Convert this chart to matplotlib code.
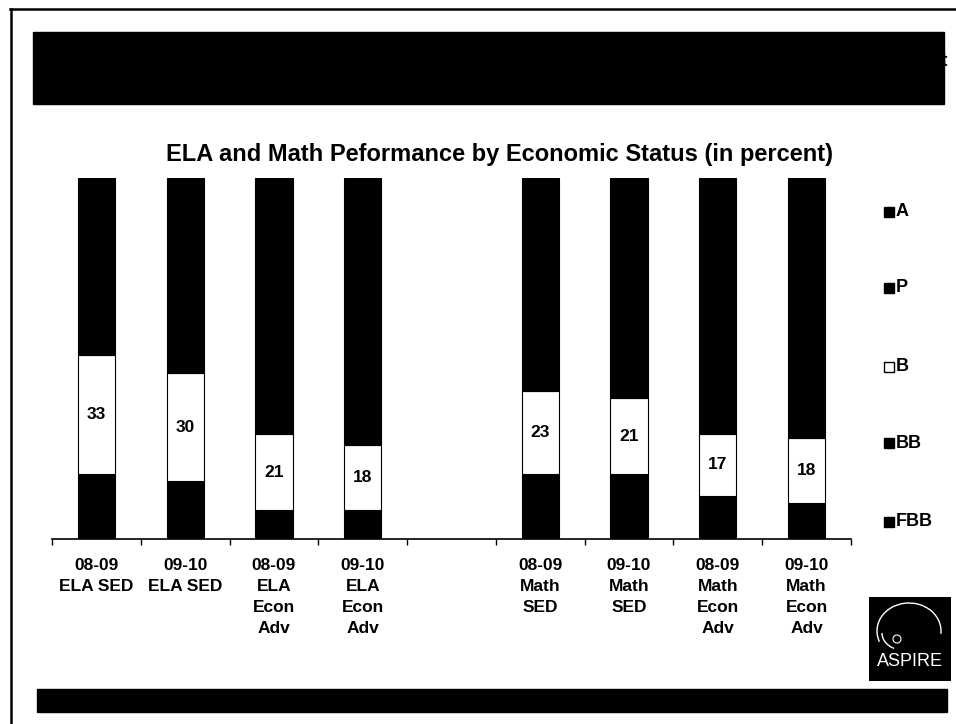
import matplotlib.pyplot as plt
from matplotlib.patches import Rectangle, Arc
from matplotlib.lines import Line2D

plt.rcParams['font.family'] = ['Liberation Sans', 'DejaVu Sans']

labels = ['08-09\nELA SED', '09-10\nELA SED', '08-09\nELA\nEcon\nAdv', '09-10\nELA\nEcon\nAdv',
          '08-09\nMath\nSED', '09-10\nMath\nSED', '08-09\nMath\nEcon\nAdv', '09-10\nMath\nEcon\nAdv']
# position in the category axis, one empty slot between ELA and Math
slots = [0, 1, 2, 3, 5, 6, 7, 8]

series = ['FBB', 'BB', 'B', 'P', 'A']
FBB = [6, 5, 2, 2, 5, 6, 4, 3]
BB = [12, 11, 6, 6, 13, 12, 8, 7]
B = [33, 30, 21, 18, 23, 21, 17, 18]
P = [33, 36, 42, 44, 34, 36, 38, 37]
A = [16, 18, 29, 30, 25, 25, 33, 35]
values = [FBB, BB, B, P, A]
colors = ['black', 'black', 'white', 'black', 'black']

fig = plt.figure(figsize=(9.56, 7.24), dpi=100)
W, H = 956, 724

def fx(px):
    return px / W

def fy(py):
    return 1 - py / H

# page frame and black bands
fig.add_artist(Line2D([fx(10), 1], [fy(9), fy(9)], color='black', lw=1.8))
fig.add_artist(Line2D([fx(11), fx(11)], [fy(9), 0], color='black', lw=1.8))
fig.add_artist(Rectangle((fx(33), fy(104)), fx(944 - 33), (104 - 32) / H, color='black'))
fig.text(fx(941), fy(61), 't', fontsize=14, fontweight='bold', ha='left', va='center')
fig.add_artist(Rectangle((fx(37), fy(712)), fx(947 - 37), (712 - 689) / H, color='black'))

ax = fig.add_axes([fx(52), fy(539), fx(851 - 52), (539 - 178) / H])

bottom = [0] * len(slots)
for name, vals, c in zip(series, values, colors):
    ax.bar(slots, vals, width=0.42, bottom=bottom, color=c,
           edgecolor='black' if c == 'white' else c, linewidth=0.8)
    if name == 'B':
        for x, b, v in zip(slots, bottom, vals):
            ax.text(x, b + v / 2, str(v), ha='center', va='center',
                    fontsize=12.5, fontweight='bold')
    bottom = [b + v for b, v in zip(bottom, vals)]

ax.set_xlim(-0.5, 8.5)
ax.set_ylim(0, 100)
ax.set_yticks([])
for s in ['top', 'right', 'left']:
    ax.spines[s].set_visible(False)
ax.spines['bottom'].set_linewidth(1.2)
ax.set_xticks(slots)
ax.set_xticklabels(labels, fontsize=12.5, fontweight='bold', linespacing=1.5)
ax.tick_params(axis='x', which='major', length=0, pad=14)
ax.set_xticks([i - 0.5 for i in range(10)], minor=True)
ax.tick_params(axis='x', which='minor', length=4, width=1, direction='out')

fig.text(fx(500), fy(154), 'ELA and Math Peformance by Economic Status (in percent)',
         ha='center', va='center', fontsize=17, fontweight='bold')

# legend, top to bottom
leg_y = [212, 288, 367, 443, 522]
for name, c, y in zip(series[::-1], colors[::-1], leg_y):
    fig.add_artist(Rectangle((fx(884), fy(y + 5)), fx(10), 10 / H, facecolor=c,
                             edgecolor='black', lw=1))
    fig.text(fx(896), fy(y), name, ha='left', va='center', fontsize=13, fontweight='bold')

# logo
lax = fig.add_axes([fx(869), fy(681), fx(951 - 869), (681 - 597) / H])
lax.set_xlim(0, 82)
lax.set_ylim(0, 84)
lax.axis('off')
lax.add_patch(Rectangle((0, 0), 82, 84, color='black'))
lax.add_patch(Arc((40, 50), 64, 56, theta1=-5, theta2=200, color='white', lw=1))
lax.add_patch(Arc((34, 48), 42, 34, theta1=180, theta2=240, color='white', lw=1))
lax.add_patch(Arc((28, 42), 8, 8, theta1=0, theta2=360, color='white', lw=0.8))
lax.text(41, 19, 'ASPIRE', color='white', ha='center', va='center', fontsize=13)

fig.savefig('out.png', dpi=100)
